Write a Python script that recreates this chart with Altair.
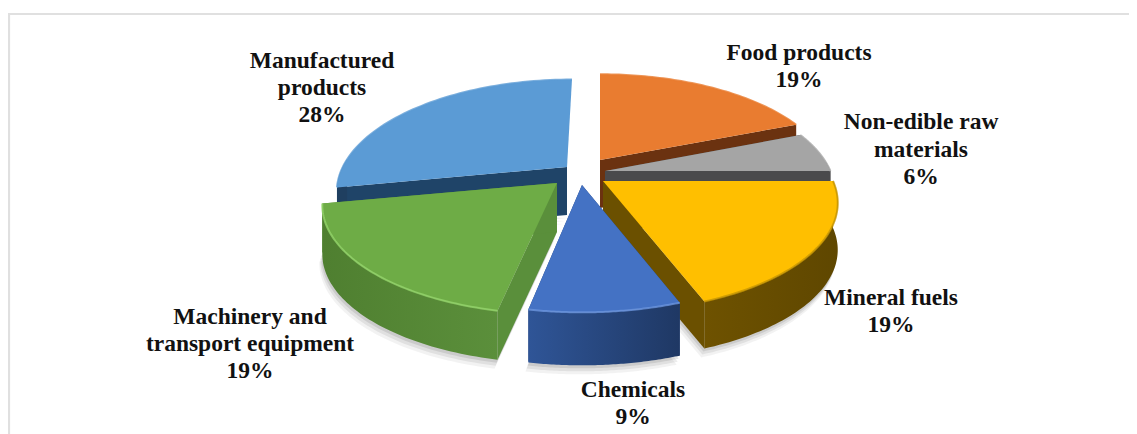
import math
import altair as alt

CATEGORIES = ["Food products", "Non-edible raw materials", "Mineral fuels",
              "Chemicals", "Machinery and transport equipment", "Manufactured products"]
VALUES = [19, 6, 19, 9, 19, 28]
LABEL_LINES = [["Food products", "19%"], ["Non-edible raw", "materials", "6%"],
               ["Mineral fuels", "19%"], ["Chemicals", "9%"],
               ["Machinery and", "transport equipment", "19%"],
               ["Manufactured", "products", "28%"]]
LABEL_CENTRES = [[799, 799], [921, 921, 921], [891, 891], [633, 633],
                 [250, 250, 250], [322, 322, 322]]
LABEL_BASELINES = [[60, 87], [129, 157, 184], [305, 332], [397, 424],
                   [324, 351, 378], [68, 95, 122]]
TOP_COLOURS = ["#E97C30", "#A5A5A5", "#FFBF00", "#4472C4", "#6EAC46", "#5B9BD5"]
WALL_STOPS = [("#6B3210", "#6B3210"), ("#4A4A4C", "#4A4A4C"), ("#6E5200", "#5F4700"),
              ("#2F5597", "#1F3864"), ("#4F7F30", "#5B8F3B"), ("#1F3F60", "#1F3F60")]
SIDE_COLOURS = ["#6B3210", "#4A4A4C", "#6B5000", "#24427A", "#5A8F3B", "#1F4468"]
EDGE_COLOURS = ["#E97C30", "#A5A5A5", "#C79600", "#6C95DD", "#93D46A", "#5B9BD5"]
TIPS = [(600, 160), (605, 171), (603, 181), (582, 185), (557, 183), (567, 167)]
THICK = [48, 48, 47, 53, 49, 48]
SCALE_X = [0.985, 0.98, 1.0, 1.0, 1.0, 0.975]
SCALE_Y = [0.98, 1.0, 1.0, 0.97, 1.0, 1.0]
SHEAR = [0, 0, 0, 0, 0, 0.057]
START_TWEAK = [0, 0, 0, 1.4, 1.2, 0]      # degrees, view rotation per cut
END_TWEAK = [0, 0, 0.6, 0, 0, 0]
RX, RY, PERSP = 230, 105, 0.2
DRAW_ORDER = [5, 0, 1, 2, 4, 3]
BACK_FACING_END = [5]


def to_view(p):
    return [p[0] - 8, p[1] - 8]


def rim(i, angle):
    u, v = math.sin(angle), math.cos(angle)
    s = 1 / (1 + PERSP * v)
    dy = -RY * v * s * SCALE_Y[i]
    return (TIPS[i][0] + RX * u * s * SCALE_X[i] - SHEAR[i] * dy, TIPS[i][1] + dy)


def poly(points):
    ring = [to_view(p) for p in points]
    ring.append(ring[0])
    return alt.Data(values=[{"type": "Feature", "properties": {},
                             "geometry": {"type": "Polygon", "coordinates": [ring]}}])


def path(points):
    return alt.Data(values=[{"type": "Feature", "properties": {},
                             "geometry": {"type": "LineString",
                                          "coordinates": [to_view(p) for p in points]}}])


def gradient(a, b):
    return alt.LinearGradient(gradient="linear", x1=0, x2=1, y1=0, y2=0,
                              stops=[alt.GradientStop(color=a, offset=0),
                                     alt.GradientStop(color=b, offset=1)])


PROJ = dict(type="identity", scale=1, translate=[0, 0])
layers = []


def shape(data, **kw):
    layers.append(alt.Chart(data).mark_geoshape(**kw).project(**PROJ))


# frame
shape(path([(9, 434), (9, 14), (1137, 14)]), filled=False, stroke="#E0E0E0", strokeWidth=2.2)

total = sum(VALUES)
starts, a = [], 0.0
for val in VALUES:
    starts.append(a)
    a += val / total * 2 * math.pi


def slice_angles(i):
    a1 = starts[i] + math.radians(START_TWEAK[i])
    a2 = starts[i] + VALUES[i] / total * 2 * math.pi + math.radians(END_TWEAK[i])
    return [a1 + (a2 - a1) * k / 60 for k in range(61)]


def slice_arc(i):
    return [rim(i, ang) for ang in slice_angles(i)]


# soft ground shadows (front-facing part only)
for i in DRAW_ORDER:
    front = [rim(i, ang) for ang in slice_angles(i) if math.cos(ang) <= 0.1]
    if len(front) < 2:
        continue
    for dx, dy, op in [(-3, 9, 0.05), (-2, 6, 0.07), (-1, 3, 0.09)]:
        outline = [TIPS[i]] + front
        shape(poly([(x + dx, y + THICK[i] + dy) for x, y in outline]),
              fill="#000000", fillOpacity=op, strokeOpacity=0)

for i in DRAW_ORDER:
    arc = slice_arc(i)
    front = [rim(i, ang) for ang in slice_angles(i) if math.cos(ang) <= 0.1]
    t = THICK[i]
    tip = TIPS[i]
    low = lambda p: (p[0], p[1] + t)
    # cut faces
    shape(poly([tip, arc[0], low(arc[0]), low(tip)]), fill=SIDE_COLOURS[i], strokeOpacity=0)
    if i not in BACK_FACING_END:
        shape(poly([tip, arc[-1], low(arc[-1]), low(tip)]), fill=SIDE_COLOURS[i], strokeOpacity=0)
    # outer wall
    if len(front) >= 2:
        shape(poly(front + [low(p) for p in reversed(front)]),
              fill=gradient(*WALL_STOPS[i]), strokeOpacity=0)
    # top face
    shape(poly([tip] + arc), fill=TOP_COLOURS[i], strokeOpacity=0)
    # bevel highlight along the rim
    shape(path(arc), filled=False, stroke=EDGE_COLOURS[i], strokeWidth=2, strokeOpacity=0.8)

# labels
for lines, xs, ys in zip(LABEL_LINES, LABEL_CENTRES, LABEL_BASELINES):
    for line, x, y in zip(lines, xs, ys):
        layers.append(
            alt.Chart(alt.Data(values=[{"t": line}]))
            .mark_text(font="Liberation Serif", fontWeight="bold", fontSize=23.5,
                       color="#111111", align="center", baseline="alphabetic")
            .encode(text="t:N", x=alt.value(x - 8), y=alt.value(y - 8))
        )

chart = (alt.layer(*layers)
         .properties(width=1121, height=426, padding=0, autosize="none")
         .configure_view(stroke=None))
chart.save("out.html", embed_options={"renderer": "svg", "actions": False})
